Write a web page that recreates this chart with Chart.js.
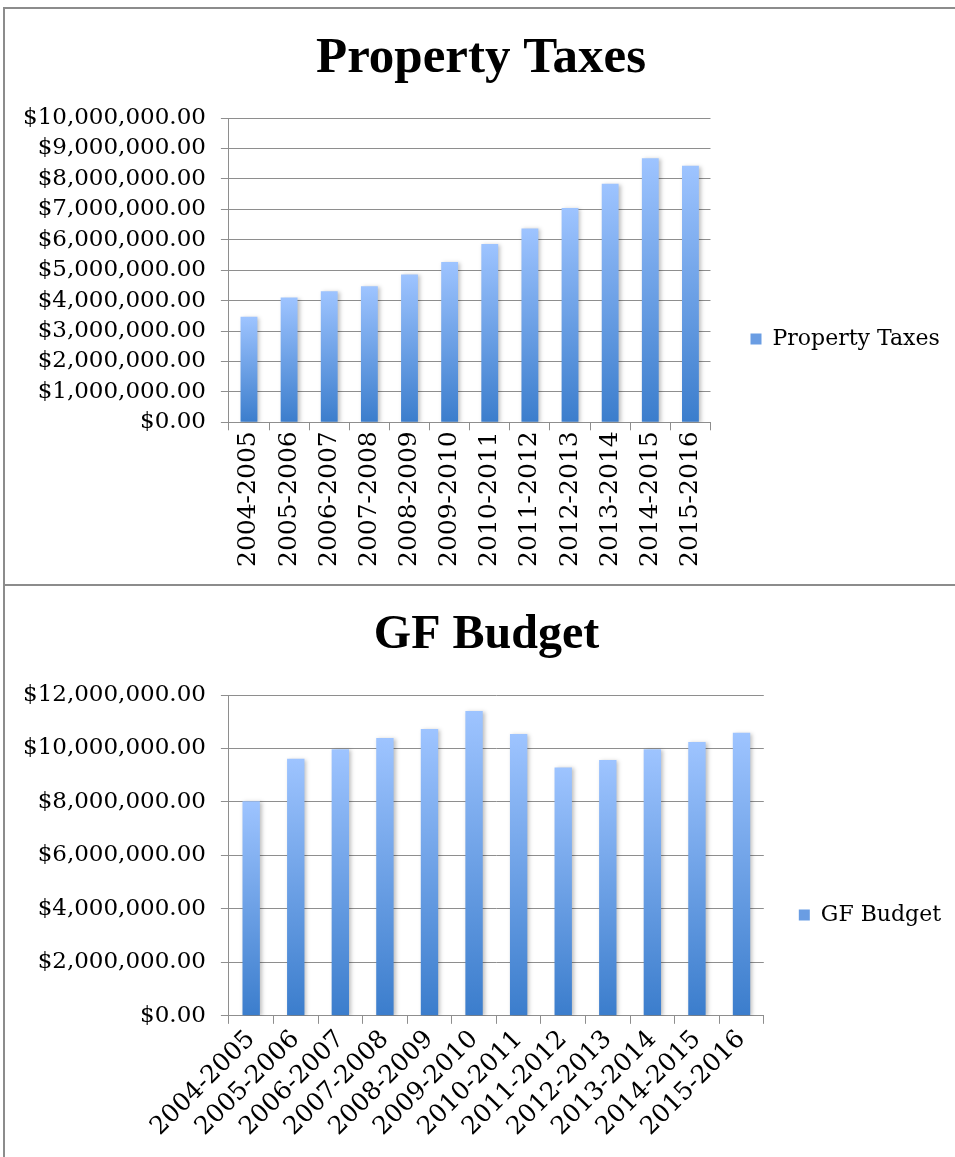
<!DOCTYPE html>
<html>
<head>
<meta charset="utf-8">
<script src="https://cdn.jsdelivr.net/npm/chart.js@4"></script>
<style>
  html, body { margin: 0; padding: 0; background: #fff; overflow: hidden; width: 955px; height: 1157px; }
  .panel { position: absolute; left: 3px; width: 1000px; border: 2px solid #8c8c8c; background: #fff; box-sizing: border-box; }
  canvas { display: block; }
</style>
</head>
<body>
<div class="panel" style="top:7px;height:579px"><canvas id="chart1" width="950" height="575"></canvas></div>
<div class="panel" style="top:584px;height:600px"><canvas id="chart2" width="950" height="571"></canvas></div>
<script>
const years = [
  "2004-2005", "2005-2006", "2006-2007", "2007-2008", "2008-2009", "2009-2010",
  "2010-2011", "2011-2012", "2012-2013", "2013-2014", "2014-2015", "2015-2016",
];
const propertyTaxes = [3470000, 4100000, 4310000, 4470000, 4860000, 5270000,
  5860000, 6370000, 7040000, 7840000, 8680000, 8430000];
const gfBudget = [8030000, 9620000, 9970000, 10390000, 10730000, 11400000,
  10540000, 9290000, 9570000, 9970000, 10240000, 10590000];

// y axis ranges: [max, step]
const taxAxis = [10000000, 1000000];
const budgetAxis = [12000000, 2000000];

Chart.defaults.font.family = "'DejaVu Serif', serif";
Chart.defaults.color = "#000";

const gridGray = "#8e8e8e";

function money(v) {
  return "$" + Number(v).toLocaleString("en-US", { minimumFractionDigits: 2, maximumFractionDigits: 2 });
}

// each bar: light blue on top fading to darker blue at the base
function barFill(context) {
  const chart = context.chart;
  if (!chart.chartArea || context.type !== "data") return "#6fa0e6";
  const y = chart.scales.y;
  const top = y.getPixelForValue(context.parsed.y);
  const base = y.getPixelForValue(0);
  const g = chart.ctx.createLinearGradient(0, top, 0, base);
  g.addColorStop(0, "#9ec4ff");
  g.addColorStop(1, "#3b7dcc");
  return g;
}

const barShadow = {
  id: "barShadow",
  beforeDatasetsDraw(chart) {
    const ctx = chart.ctx;
    ctx.save();
    ctx.shadowColor = "rgba(0,0,0,0.25)";
    ctx.shadowBlur = 4;
    ctx.shadowOffsetX = 2;
    ctx.shadowOffsetY = 1;
  },
  afterDatasetsDraw(chart) {
    chart.ctx.restore();
  },
};

function makeChart(id, title, values, axis, opts) {
  return new Chart(document.getElementById(id), {
    type: "bar",
    data: {
      labels: years,
      datasets: [
        {
          label: title,
          data: values,
          backgroundColor: barFill,
          borderWidth: 0,
          categoryPercentage: 1,
          barPercentage: opts.barPct,
        },
      ],
    },
    plugins: [barShadow],
    options: {
      responsive: false,
      animation: false,
      // a bit of left padding taken back from the y axis so the title sits more to the right
      layout: { padding: { left: 3 + opts.shrink, right: opts.padRight, top: 0, bottom: opts.padBottom } },
      plugins: {
        title: {
          display: true,
          text: title,
          font: { family: "'Liberation Serif', serif", size: opts.titleSize, weight: "bold", lineHeight: 1.2 },
          padding: { top: 50 - opts.titleSize * 0.6, bottom: 109 - 50 - opts.titleSize * 0.6 },
          color: "#000",
        },
        legend: {
          position: "right",
          // empty legend title only pushes the key down to where Excel puts it
          title: { display: true, text: " ", font: { size: 1 }, padding: { top: 100, bottom: 0 } },
          labels: {
            boxWidth: 11,
            boxHeight: 11,
            padding: opts.legendPad,
            font: { size: 22 },
            generateLabels(chart) {
              const items = Chart.defaults.plugins.legend.labels.generateLabels(chart);
              items.forEach((it) => {
                it.fillStyle = "#6a9de3";
                it.strokeStyle = "#6a9de3";
                it.lineWidth = 0;
              });
              return items;
            },
          },
        },
        tooltip: { enabled: false },
      },
      scales: {
        y: {
          min: 0,
          max: axis[0],
          afterFit(scale) {
            scale.width -= opts.shrink;
          },
          ticks: {
            stepSize: axis[1],
            padding: 15,
            font: { size: 23, lineHeight: 1 },
            callback: (v) => money(v),
          },
          grid: { color: gridGray, lineWidth: 1, tickLength: 8 },
          border: { display: true, color: gridGray, width: 1 },
        },
        x: {
          ticks: {
            minRotation: opts.rotation,
            maxRotation: opts.rotation,
            autoSkip: false,
            padding: 1,
            font: { size: 25 },
          },
          grid: { drawOnChartArea: false, drawTicks: true, tickLength: 8, color: gridGray },
          border: { display: true, color: gridGray, width: 1 },
        },
      },
    },
  });
}

makeChart("chart1", "Property Taxes", propertyTaxes, taxAxis,
  { rotation: 90, barPct: 0.42, padRight: 15, padBottom: 16, legendPad: 40, titleSize: 51, shrink: 14 });
makeChart("chart2", "GF Budget", gfBudget, budgetAxis,
  { rotation: 45, barPct: 0.39, padRight: 4, padBottom: 14, legendPad: 35, titleSize: 48, shrink: 14 });
</script>
</body>
</html>
